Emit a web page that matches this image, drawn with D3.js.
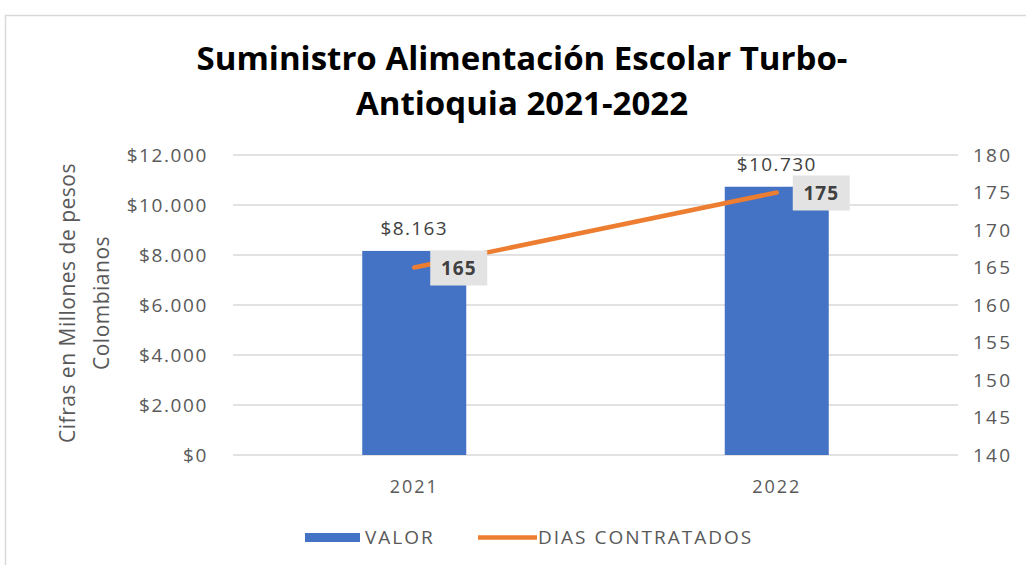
<!DOCTYPE html>
<html><head><meta charset="utf-8">
<script src="https://cdn.jsdelivr.net/npm/d3@7"></script>
<style>
body{margin:0;background:#fff;}
text{font-family:"Open Sans",sans-serif;}
</style></head>
<body><svg id="c" width="1026" height="565"></svg>
<script>
const categories = ["2021","2022"];
const valor = [8163, 10730];
const dias = [165, 175];
const valorLabels = ["$8.163","$10.730"];
const leftTicks = [0,2000,4000,6000,8000,10000,12000];
const leftTickLabels = ["$0","$2.000","$4.000","$6.000","$8.000","$10.000","$12.000"];
const rightTicks = [140,145,150,155,160,165,170,175,180];
const seriesNames = ["VALOR","DIAS CONTRATADOS"];
const titleLines = ["Suministro Alimentación Escolar Turbo-","Antioquia 2021-2022"];
const yTitleLines = ["Cifras en Millones de pesos","Colombianos"];

const svg = d3.select("#c");
const m = {l:233, r:958, t:155, b:455};
const blue = "#4472C4", orange = "#ED7D31", grid="#D9D9D9", tc="#595959";

svg.append("rect").attr("x",5.5).attr("y",15.5).attr("width",1030).attr("height",560)
  .attr("fill","#fff").attr("stroke","#D9D9D9").attr("stroke-width",1.5);

const x = d3.scaleBand().domain(categories).range([m.l,m.r]).paddingInner(0).paddingOuter(0);
const y = d3.scaleLinear().domain([0,12000]).range([m.b,m.t]);
const y2 = d3.scaleLinear().domain([140,180]).range([m.b,m.t]);

// title
svg.append("g").selectAll("text").data(titleLines).join("text")
  .attr("x",522).attr("y",(d,i)=>70+i*45).attr("text-anchor","middle")
  .attr("font-size",33).attr("font-weight",700).attr("fill","#000")
  .text(d=>d);

// gridlines
svg.append("g").selectAll("line").data(leftTicks).join("line")
  .attr("x1",m.l).attr("x2",m.r).attr("y1",d=>y(d)).attr("y2",d=>y(d))
  .attr("stroke",grid).attr("stroke-width",1.5);

// left axis
const la = svg.append("g").attr("transform",`translate(${m.l},0)`)
  .call(d3.axisLeft(y).tickValues(leftTicks).tickSize(0).tickPadding(25)
    .tickFormat((d,i)=>leftTickLabels[i]));
la.select(".domain").remove();
la.selectAll("text").attr("font-size",19).attr("fill",tc).attr("font-family","Open Sans").attr("letter-spacing",1.6);

// right axis
const ra = svg.append("g").attr("transform",`translate(${m.r},0)`)
  .call(d3.axisRight(y2).tickValues(rightTicks).tickSize(0).tickPadding(15));
ra.select(".domain").remove();
ra.selectAll("text").attr("font-size",19).attr("fill",tc).attr("font-family","Open Sans").attr("letter-spacing",2.2);

// x axis
const xa = svg.append("g").attr("transform",`translate(0,${m.b})`)
  .call(d3.axisBottom(x).tickSize(0).tickPadding(25));
xa.select(".domain").remove();
xa.selectAll("text").attr("font-size",18).attr("fill",tc).attr("font-family","Open Sans").attr("letter-spacing",2);

// y title
const yt = svg.append("text").attr("transform","translate(75,303) rotate(-90)")
  .attr("text-anchor","middle").attr("font-size",21).attr("fill",tc).attr("letter-spacing",0.5);
yt.selectAll("tspan").data(yTitleLines).join("tspan")
  .attr("x",0).attr("dy",(d,i)=>i===0?0:34).text(d=>d);

// bars
const bw = 104;
svg.append("g").selectAll("rect").data(valor).join("rect")
  .attr("x",(d,i)=>x(categories[i])+x.bandwidth()/2-bw/2).attr("width",bw)
  .attr("y",d=>y(d)).attr("height",d=>m.b-y(d)).attr("fill",blue);

// bar labels
svg.append("g").selectAll("text").data(valor).join("text")
  .attr("x",(d,i)=>x(categories[i])+x.bandwidth()/2).attr("y",d=>y(d)-16)
  .attr("text-anchor","middle").attr("font-size",19).attr("letter-spacing",1.4).attr("fill","#404040")
  .text((d,i)=>valorLabels[i]);

// line
const line = d3.line().x((d,i)=>x(categories[i])+x.bandwidth()/2).y(d=>y2(d));
svg.append("path").datum(dias).attr("d",line).attr("fill","none")
  .attr("stroke",orange).attr("stroke-width",4.5).attr("stroke-linecap","round");

// line labels
const lg = svg.append("g").selectAll("g").data(dias).join("g")
  .attr("transform",(d,i)=>`translate(${x(categories[i])+x.bandwidth()/2+16},${y2(d)})`);
lg.append("rect").attr("x",0).attr("y",-17).attr("width",57).attr("height",35).attr("fill","#E3E3E3");
lg.append("text").attr("x",28.5).attr("y",7).attr("text-anchor","middle")
  .attr("font-size",19).attr("font-weight",700).attr("letter-spacing",1).attr("fill","#404040").text(d=>d);

// legend
const leg = svg.append("g");
leg.append("rect").attr("x",305).attr("y",533).attr("width",55).attr("height",9).attr("fill",blue);
leg.append("text").attr("x",365).attr("y",544).attr("font-size",19).attr("letter-spacing",2).attr("fill",tc).text(seriesNames[0]);
leg.append("line").attr("x1",478).attr("x2",537).attr("y1",537.5).attr("y2",537.5)
  .attr("stroke",orange).attr("stroke-width",4.5);
leg.append("text").attr("x",538).attr("y",544).attr("font-size",19).attr("letter-spacing",2).attr("fill",tc).text(seriesNames[1]);
</script></body></html>
